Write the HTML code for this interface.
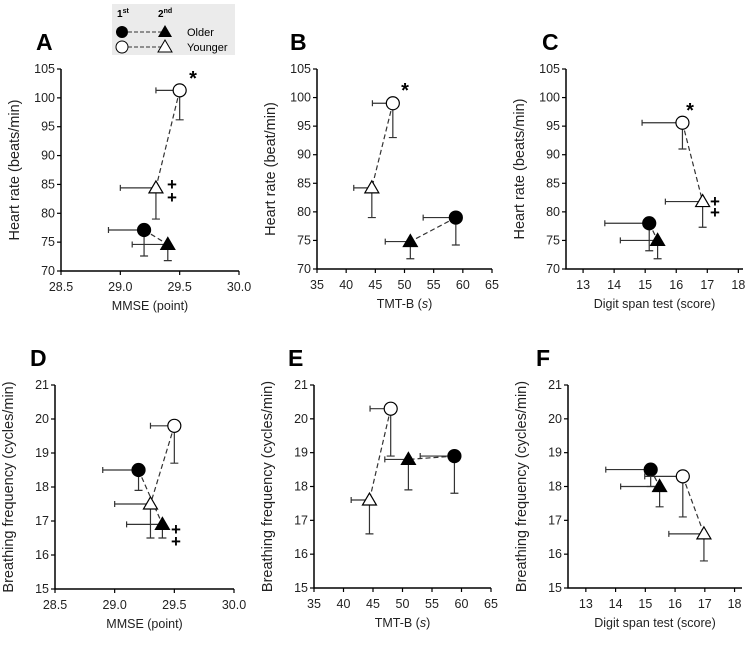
<!DOCTYPE html>
<html><head><meta charset="utf-8">
<style>
body{margin:0;background:#fff;width:751px;height:642px;overflow:hidden}
svg{font-family:"Liberation Sans",Arial,sans-serif}
</style></head>
<body>
<svg id="fig" width="751" height="642" viewBox="0 0 751 642" xmlns="http://www.w3.org/2000/svg">
<g>
<rect x="112" y="4" width="123" height="51" fill="#ebebeb"/>
<text x="117" y="17" font-size="10" font-weight="bold">1<tspan font-size="7" dy="-4">st</tspan></text>
<text x="158" y="17" font-size="10" font-weight="bold">2<tspan font-size="7" dy="-4">nd</tspan></text>
<line x1="122" y1="32" x2="165" y2="32" stroke="#333" stroke-dasharray="4,2"/>
<circle cx="122" cy="32" r="6" fill="#000"/>
<path d="M165,25 L172,37 L158,37 Z" fill="#000"/>
<text x="187" y="36" font-size="11">Older</text>
<line x1="122" y1="47" x2="165" y2="47" stroke="#333" stroke-dasharray="4,2"/>
<circle cx="122" cy="47" r="6" fill="#fff" stroke="#000"/>
<path d="M165,40 L172,52 L158,52 Z" fill="#fff" stroke="#000"/>
<text x="187" y="51" font-size="11">Younger</text>
</g>
</svg>
<script>
// Panel data: [x, y, xLeftErr, yDownErr] for Older1, Older2, Younger1, Younger2
const olderFirstA = [29.2, 77.1, 28.9, 72.6];
const olderSecondA = [29.4, 74.6, 29.1, 71.8];
const youngerFirstA = [29.5, 101.3, 29.3, 96.2];
const youngerSecondA = [29.3, 84.4, 29.0, 79.0];
const olderFirstB = [58.8, 79.0, 53.2, 74.2];
const olderSecondB = [51.0, 74.8, 46.7, 71.8];
const youngerFirstB = [48.0, 99.0, 44.5, 93.0];
const youngerSecondB = [44.4, 84.2, 41.3, 79.0];
const olderFirstC = [15.13, 78.0, 13.7, 73.2];
const olderSecondC = [15.4, 75.0, 14.2, 71.8];
const youngerFirstC = [16.2, 95.6, 14.9, 91.0];
const youngerSecondC = [16.85, 81.8, 15.65, 77.3];
const olderFirstD = [29.2, 18.5, 28.9, 17.9];
const olderSecondD = [29.4, 16.9, 29.1, 16.5];
const youngerFirstD = [29.5, 19.8, 29.3, 18.7];
const youngerSecondD = [29.3, 17.5, 29.0, 16.5];
const olderFirstE = [58.8, 18.9, 53.0, 17.8];
const olderSecondE = [51.0, 18.8, 47.0, 17.9];
const youngerFirstE = [48.0, 20.3, 44.5, 18.9];
const youngerSecondE = [44.4, 17.6, 41.3, 16.6];
const olderFirstF = [15.18, 18.5, 13.67, 18.0];
const olderSecondF = [15.48, 18.0, 14.17, 17.4];
const youngerFirstF = [16.26, 18.3, 14.98, 17.1];
const youngerSecondF = [16.97, 16.6, 15.79, 15.8];
const hrTicks = [70, 75, 80, 85, 90, 95, 100, 105];
const bfTicks = [15, 16, 17, 18, 19, 20, 21];
const mmseTicks = ["28.5", "29.0", "29.5", "30.0"];
const tmtTicks = [35, 40, 45, 50, 55, 60, 65];
const digitTicks = [13, 14, 15, 16, 17, 18];

const NS = "http://www.w3.org/2000/svg";
const svg = document.getElementById("fig");
function mk(tag, attrs, parent) {
  const e = document.createElementNS(NS, tag);
  for (const k in attrs) e.setAttribute(k, attrs[k]);
  (parent || svg).appendChild(e);
  return e;
}
const panels = [
 {id:"a", L:61, R:239, T:69, B:271, xmin:28.5, xmax:30.0, ymin:70, ymax:105, xt:mmseTicks, yt:hrTicks, xtitle:"MMSE (point)", ytitle:"Heart rate (beats/min)", data:[olderFirstA,olderSecondA,youngerFirstA,youngerSecondA], star:[193,74], dag:[172,184,197], letter:[36,50]},
 {id:"b", L:317, R:492, T:69, B:269, xmin:35, xmax:65, ymin:70, ymax:105, xt:tmtTicks, yt:hrTicks, xtitle:"TMT-B (s)", ytitle:"Heart rate (beat/min)", data:[olderFirstB,olderSecondB,youngerFirstB,youngerSecondB], star:[405,86], dag:null, letter:[290,50]},
 {id:"c", L:566, R:743, T:69, B:269, xmin:12.45, xmax:18.15, ymin:70, ymax:105, xt:digitTicks, yt:hrTicks, xtitle:"Digit span test (score)", ytitle:"Heart rate (beats/min)", data:[olderFirstC,olderSecondC,youngerFirstC,youngerSecondC], star:[690,106], dag:[715,201,212], letter:[542,50]},
 {id:"d", L:55, R:234, T:385, B:589, xmin:28.5, xmax:30.0, ymin:15, ymax:21, xt:mmseTicks, yt:bfTicks, xtitle:"MMSE (point)", ytitle:"Breathing frequency (cycles/min)", data:[olderFirstD,olderSecondD,youngerFirstD,youngerSecondD], star:null, dag:[176,529,541], letter:[30,366]},
 {id:"e", L:314, R:491, T:385, B:588, xmin:35, xmax:65, ymin:15, ymax:21, xt:tmtTicks, yt:bfTicks, xtitle:"TMT-B (s)", ytitle:"Breathing frequency (cycles/min)", data:[olderFirstE,olderSecondE,youngerFirstE,youngerSecondE], star:null, dag:null, letter:[288,366]},
 {id:"f", L:568, R:742, T:385, B:588, xmin:12.4, xmax:18.25, ymin:15, ymax:21, xt:digitTicks, yt:bfTicks, xtitle:"Digit span test (score)", ytitle:"Breathing frequency (cycles/min)", data:[olderFirstF,olderSecondF,youngerFirstF,youngerSecondF], star:null, dag:null, letter:[536,366]}
];
panels.forEach(p => {
  const g = mk("g", {});
  
  
  const sx = v => p.L + (parseFloat(v) - p.xmin) / (p.xmax - p.xmin) * (p.R - p.L);
  const sy = v => p.B - (v - p.ymin) / (p.ymax - p.ymin) * (p.B - p.T);
  const lt = mk("text", {x:p.letter[0], y:p.letter[1], "font-size":23, "font-weight":"bold"}, g);
  lt.textContent = p.id.toUpperCase();
  
  
  const ax = mk("path", {d:`M${p.L},${p.T} V${p.B} H${p.R}`, fill:"none", stroke:"#000", "stroke-width":1.5}, g);
  
  
  p.yt.forEach(v => {
    const y = sy(v);
    mk("line", {x1:p.L-4, x2:p.L, y1:y, y2:y, stroke:"#000", "stroke-width":1.2}, g);
    const t = mk("text", {x:p.L-6, y:y+4, "font-size":12.5, "text-anchor":"end", fill:"#222"}, g);
    t.textContent = v;
    
    
  });
  p.xt.forEach(v => {
    const x = sx(v);
    mk("line", {x1:x, x2:x, y1:p.B, y2:p.B+4, stroke:"#000", "stroke-width":1.2}, g);
    const t = mk("text", {x:x, y:p.B+20, "font-size":12.5, "text-anchor":"middle", fill:"#222"}, g);
    t.textContent = v;
    
    
  });
  const xt = mk("text", {x:(p.L+p.R)/2, y:p.B+39, "font-size":12.5, "text-anchor":"middle", fill:"#222"}, g);
  if (p.xtitle.indexOf("(s)") >= 0) {
    xt.innerHTML = 'TMT-B (<tspan font-style="italic">s</tspan>)';
  } else xt.textContent = p.xtitle;
  
  
  const ytx = p.L - 42, ytyy = (p.T + p.B) / 2;
  const yt = mk("text", {x:ytx, y:ytyy, "font-size":14.5, "text-anchor":"middle", fill:"#222", transform:`rotate(-90 ${ytx} ${ytyy})`}, g);
  yt.textContent = p.ytitle;
  
  
  const [o1, o2, y1, y2] = p.data;
  [[o1,o2,"older"],[y1,y2,"younger"]].forEach(([a,b,n]) => {
    const l = mk("line", {x1:sx(a[0]), y1:sy(a[1]), x2:sx(b[0]), y2:sy(b[1]), stroke:"#333", "stroke-width":1.2, "stroke-dasharray":"5,3"}, g);
    
    
  });
  const marks = [[o1,"c","#000","older-first"],[o2,"t","#000","older-second"],[y1,"c","#fff","younger-first"],[y2,"t","#fff","younger-second"]];
  marks.forEach(([d,shape,fill,n]) => {
    const x = sx(d[0]), y = sy(d[1]), xl = sx(d[2]), yd = sy(d[3]);
    const eb = mk("path", {d:`M${x},${y} H${xl} M${xl},${y-3} V${y+3} M${x},${y} V${yd} M${x-4},${yd} H${x+4}`, stroke:"#333", "stroke-width":1.2, fill:"none"}, g);
    
    
    let m;
    if (shape === "c") m = mk("circle", {cx:x, cy:y, r:6.5, fill:fill, stroke:"#000", "stroke-width":1.2}, g);
    else m = mk("path", {d:`M${x},${y-7} L${x+7},${y+5} L${x-7},${y+5} Z`, fill:fill, stroke:"#000", "stroke-width":1.2}, g);
    
    
  });
  if (p.star) {
    const s = mk("text", {x:p.star[0], y:p.star[1]+11, "font-size":20, "font-weight":"bold", "text-anchor":"middle"}, g);
    s.textContent = "*";
    
    
  }
  if (p.dag) {
    [p.dag[1], p.dag[2]].forEach(cy => {
      const s = mk("text", {x:p.dag[0], y:cy+6, "font-size":17, "font-weight":"bold", "text-anchor":"middle"}, g);
      s.textContent = "+";
      
      
    });
  }
});
</script>
</body></html>
